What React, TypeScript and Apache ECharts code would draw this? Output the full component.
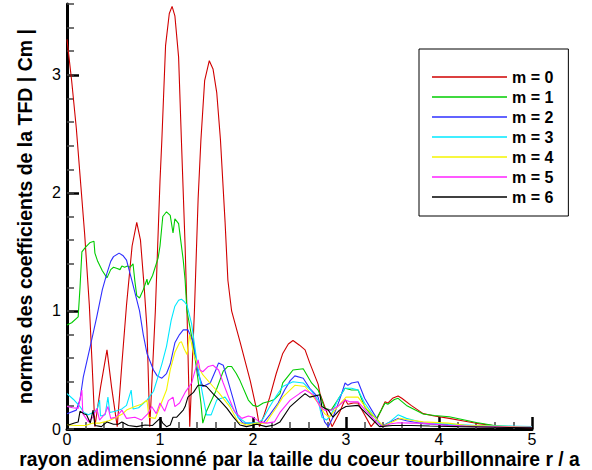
import React, { useEffect, useRef } from "react";
import * as echarts from "echarts";

const seriesNames = ["m = 0", "m = 1", "m = 2", "m = 3", "m = 4", "m = 5", "m = 6"];
const seriesColors = ["#d00000", "#00cc00", "#2f2fff", "#00e8ff", "#f5f500", "#ff22ff", "#000000"];
const yTickValues = [0, 1, 2, 3];

const m0: [number, number][] = [
  [0, 3.3], [0.05, 2.95], [0.1, 2.55], [0.15, 2.05], [0.19, 1.65], [0.24, 1.05], [0.27, 0.55], [0.3, 0.02],
  [0.36, 0.35], [0.43, 0.67], [0.48, 0.35], [0.54, 0.02], [0.59, 0.55], [0.64, 1.05], [0.7, 1.55], [0.75, 1.75],
  [0.79, 1.6], [0.83, 1.2], [0.86, 0.85], [0.89, 0.02], [0.95, 1.0], [1.0, 2.1], [1.02, 2.45], [1.06, 3.25],
  [1.1, 3.52], [1.13, 3.58], [1.16, 3.5], [1.2, 3.15], [1.23, 2.45], [1.27, 1.55], [1.29, 1.0], [1.32, 0.02],
  [1.37, 1.0], [1.41, 1.95], [1.44, 2.45], [1.48, 2.95], [1.53, 3.12], [1.57, 3.05], [1.61, 2.85], [1.65, 2.45],
  [1.7, 1.75], [1.73, 1.26], [1.77, 1.0], [1.86, 0.74], [1.97, 0.41], [2.04, 0.16], [2.07, 0.02], [2.12, 0.12],
  [2.18, 0.27], [2.25, 0.47], [2.32, 0.64], [2.38, 0.72], [2.43, 0.75], [2.5, 0.71], [2.56, 0.67], [2.61, 0.56],
  [2.7, 0.38], [2.72, 0.3], [2.79, 0.15], [2.85, 0.02], [2.93, 0.14], [2.99, 0.25], [3.02, 0.21], [3.08, 0.22],
  [3.13, 0.22], [3.2, 0.12], [3.27, 0.02], [3.33, 0.08], [3.39, 0.18], [3.42, 0.23], [3.45, 0.22], [3.5, 0.26],
  [3.56, 0.28], [3.6, 0.26], [3.7, 0.2], [3.83, 0.13], [3.95, 0.11], [4.11, 0.09], [4.25, 0.07], [4.4, 0.048],
  [4.58, 0.03], [4.75, 0.015], [5, 0.01],
];

const m1: [number, number][] = [
  [0, 0.88], [0.05, 0.9], [0.12, 0.95], [0.14, 1.2], [0.16, 1.5], [0.2, 1.54], [0.25, 1.58], [0.29, 1.59],
  [0.3, 1.49], [0.33, 1.42], [0.38, 1.34], [0.43, 1.28], [0.47, 1.35], [0.5, 1.37], [0.54, 1.36], [0.57, 1.35],
  [0.59, 1.38], [0.62, 1.37], [0.65, 1.38], [0.68, 1.37], [0.71, 1.4], [0.73, 1.25], [0.75, 1.13], [0.78, 1.11],
  [0.82, 1.18], [0.86, 1.27], [0.87, 1.22], [0.92, 1.3], [0.98, 1.45], [1.0, 1.55], [1.03, 1.8], [1.07, 1.84],
  [1.11, 1.81], [1.14, 1.66], [1.16, 1.78], [1.2, 1.74], [1.25, 1.43], [1.27, 1.26], [1.29, 1.0], [1.36, 0.7],
  [1.41, 0.41], [1.44, 0.22], [1.46, 0.05], [1.5, 0.15], [1.54, 0.22], [1.6, 0.32], [1.68, 0.49], [1.73, 0.53],
  [1.77, 0.53], [1.82, 0.47], [1.86, 0.41], [1.95, 0.245], [2.0, 0.2], [2.05, 0.19], [2.11, 0.22], [2.18, 0.235],
  [2.23, 0.25], [2.29, 0.3], [2.32, 0.39], [2.38, 0.45], [2.43, 0.5], [2.54, 0.51], [2.63, 0.39], [2.7, 0.33],
  [2.72, 0.29], [2.77, 0.175], [2.84, 0.16], [2.91, 0.245], [2.99, 0.345], [3.06, 0.33], [3.13, 0.33], [3.2, 0.19],
  [3.27, 0.12], [3.33, 0.09], [3.38, 0.16], [3.42, 0.22], [3.45, 0.21], [3.52, 0.25], [3.56, 0.26], [3.65, 0.2],
  [3.83, 0.127], [3.95, 0.115], [4.11, 0.104], [4.25, 0.08], [4.4, 0.055], [4.61, 0.028], [4.8, 0.02], [5, 0.02],
];

const m2: [number, number][] = [
  [0, 0.13], [0.1, 0.16], [0.14, 0.25], [0.175, 0.44], [0.25, 0.7], [0.32, 0.95], [0.38, 1.18], [0.43, 1.32],
  [0.47, 1.42], [0.5, 1.46], [0.56, 1.49], [0.6, 1.47], [0.64, 1.43], [0.7, 1.25], [0.78, 1.0], [0.82, 0.8],
  [0.86, 0.64], [0.93, 0.5], [0.97, 0.45], [1.02, 0.43], [1.07, 0.47], [1.11, 0.55], [1.16, 0.73], [1.21, 0.8],
  [1.25, 0.84], [1.3, 0.84], [1.36, 0.73], [1.41, 0.47], [1.46, 0.36], [1.54, 0.39], [1.6, 0.5], [1.63, 0.56],
  [1.68, 0.54], [1.73, 0.41], [1.79, 0.245], [1.84, 0.1], [1.89, 0.05], [1.97, 0.05], [2.07, 0.05], [2.12, 0.06],
  [2.18, 0.12], [2.27, 0.22], [2.34, 0.33], [2.4, 0.41], [2.45, 0.45], [2.54, 0.43], [2.61, 0.345], [2.7, 0.27],
  [2.77, 0.06], [2.81, 0.02], [2.86, 0.1], [2.93, 0.245], [2.99, 0.39], [3.02, 0.37], [3.06, 0.39], [3.13, 0.4],
  [3.2, 0.26], [3.33, 0.09], [3.38, 0.02], [3.45, 0.05], [3.56, 0.09], [3.65, 0.07], [3.83, 0.045], [4.1, 0.035],
  [4.4, 0.025], [5, 0.015],
];

const m3: [number, number][] = [
  [0, 0.3], [0.07, 0.25], [0.14, 0.19], [0.18, 0.14], [0.23, 0.12], [0.28, 0.14], [0.32, 0.16], [0.35, 0.245],
  [0.36, 0.11], [0.41, 0.12], [0.44, 0.27], [0.46, 0.14], [0.52, 0.15], [0.59, 0.17], [0.64, 0.2], [0.69, 0.33],
  [0.71, 0.17], [0.77, 0.18], [0.86, 0.245], [0.93, 0.32], [0.97, 0.42], [1.02, 0.55], [1.07, 0.7], [1.12, 0.92],
  [1.16, 1.04], [1.2, 1.09], [1.23, 1.1], [1.26, 1.08], [1.29, 1.05], [1.34, 0.89], [1.39, 0.61], [1.45, 0.33],
  [1.5, 0.12], [1.55, 0.12], [1.61, 0.245], [1.66, 0.26], [1.7, 0.27], [1.77, 0.19], [1.84, 0.1], [1.93, 0.05],
  [2.04, 0.05], [2.1, 0.076], [2.18, 0.19], [2.25, 0.28], [2.32, 0.36], [2.43, 0.4], [2.54, 0.39], [2.63, 0.32],
  [2.7, 0.245], [2.74, 0.1], [2.79, 0.076], [2.84, 0.12], [2.91, 0.245], [2.99, 0.345], [3.06, 0.345], [3.13, 0.33],
  [3.2, 0.22], [3.33, 0.076], [3.4, 0.02], [3.47, 0.06], [3.56, 0.12], [3.65, 0.09], [3.83, 0.053], [4.11, 0.042],
  [4.4, 0.03], [5, 0.02],
];

const m4: [number, number][] = [
  [0, 0.034], [0.1, 0.03], [0.2, 0.03], [0.28, 0.05], [0.35, 0.05], [0.45, 0.07], [0.53, 0.1], [0.6, 0.13],
  [0.64, 0.16], [0.73, 0.19], [0.8, 0.21], [0.86, 0.245], [0.88, 0.1], [0.95, 0.09], [1.0, 0.19], [1.07, 0.33],
  [1.11, 0.5], [1.16, 0.65], [1.21, 0.73], [1.23, 0.74], [1.26, 0.68], [1.29, 0.63], [1.32, 0.8], [1.36, 0.64],
  [1.41, 0.53], [1.46, 0.46], [1.57, 0.36], [1.64, 0.3], [1.75, 0.19], [1.84, 0.06], [1.93, 0.034], [2.04, 0.05],
  [2.14, 0.05], [2.18, 0.1], [2.25, 0.18], [2.32, 0.27], [2.45, 0.37], [2.56, 0.36], [2.63, 0.29], [2.72, 0.2],
  [2.77, 0.13], [2.82, 0.1], [2.91, 0.19], [3.0, 0.27], [3.13, 0.27], [3.22, 0.175], [3.34, 0.076], [3.4, 0.025],
  [3.5, 0.06], [3.58, 0.09], [3.65, 0.08], [3.83, 0.06], [4.1, 0.05], [4.3, 0.03], [5, 0.015],
];

const m5: [number, number][] = [
  [0, 0.19], [0.06, 0.18], [0.12, 0.175], [0.16, 0.33], [0.17, 0.13], [0.23, 0.06], [0.28, 0.1], [0.32, 0.175],
  [0.35, 0.076], [0.41, 0.13], [0.44, 0.19], [0.47, 0.09], [0.52, 0.1], [0.55, 0.12], [0.59, 0.16], [0.64, 0.09],
  [0.73, 0.1], [0.8, 0.076], [0.87, 0.13], [0.91, 0.19], [0.96, 0.13], [1.0, 0.22], [1.05, 0.15], [1.09, 0.24],
  [1.14, 0.27], [1.16, 0.19], [1.21, 0.22], [1.27, 0.31], [1.34, 0.39], [1.41, 0.585], [1.43, 0.5], [1.46, 0.485],
  [1.52, 0.53], [1.57, 0.54], [1.63, 0.5], [1.68, 0.39], [1.75, 0.245], [1.8, 0.15], [1.88, 0.09], [1.95, 0.11],
  [2.0, 0.1], [2.07, 0.06], [2.15, 0.05], [2.23, 0.06], [2.29, 0.14], [2.4, 0.245], [2.5, 0.3], [2.56, 0.33],
  [2.65, 0.29], [2.72, 0.19], [2.77, 0.16], [2.84, 0.16], [2.91, 0.19], [2.99, 0.245], [3.04, 0.23], [3.13, 0.23],
  [3.22, 0.15], [3.34, 0.05], [3.4, 0.02], [3.47, 0.042], [3.56, 0.053], [3.7, 0.05], [3.83, 0.05], [4.1, 0.03],
  [4.4, 0.02], [5, 0.015],
];

const m6: [number, number][] = [
  [0, 0.03], [0.08, 0.05], [0.12, 0.06], [0.14, 0.15], [0.18, 0.13], [0.21, 0.12], [0.25, 0.05], [0.28, 0.16],
  [0.3, 0.03], [0.37, 0.02], [0.43, 0.06], [0.5, 0.04], [0.55, 0.04], [0.59, 0.06], [0.66, 0.03], [0.75, 0.02],
  [0.84, 0.034], [0.92, 0.03], [1.0, 0.09], [1.03, 0.05], [1.07, 0.02], [1.11, 0.034], [1.14, 0.1], [1.18, 0.1],
  [1.25, 0.16], [1.27, 0.19], [1.3, 0.27], [1.36, 0.31], [1.41, 0.37], [1.46, 0.37], [1.5, 0.36], [1.57, 0.3],
  [1.64, 0.245], [1.72, 0.175], [1.79, 0.1], [1.86, 0.034], [1.93, 0.02], [2.04, 0.04], [2.14, 0.02], [2.23, 0.034],
  [2.29, 0.06], [2.4, 0.19], [2.5, 0.26], [2.56, 0.3], [2.61, 0.27], [2.72, 0.29], [2.74, 0.19], [2.81, 0.16],
  [2.86, 0.1], [2.93, 0.16], [3.0, 0.19], [3.13, 0.2], [3.22, 0.13], [3.36, 0.02], [3.5, 0.03], [3.7, 0.03],
  [3.9, 0.025], [4.2, 0.02], [5, 0.01],
];

const allSeries = [m0, m1, m2, m3, m4, m5, m6];

const FONT = "'Liberation Sans', Arial, Helvetica, sans-serif";

export default function App() {
  const ref = useRef<HTMLDivElement>(null);
  useEffect(() => {
    if (!ref.current) return;
    const chart = echarts.init(ref.current, undefined, { renderer: "svg" });
    chart.setOption({
      animation: false,
      backgroundColor: "#ffffff",
      textStyle: { fontFamily: FONT },
      grid: { left: 67, right: 60, top: 4, bottom: 41, containLabel: false, outerBoundsMode: "none" },
      legend: {
        orient: "vertical",
        left: 419,
        top: 49,
        padding: [18, 15, 9, 13],
        borderColor: "#000",
        borderWidth: 1,
        icon: "rect",
        itemWidth: 75,
        itemHeight: 1.5,
        itemGap: 0,
        itemTextGap: 12,
        data: seriesNames,
        textStyle: { fontFamily: FONT, fontSize: 16, fontWeight: "bold", color: "#000", lineHeight: 20 },
      },
      xAxis: {
        type: "value",
        min: 0,
        max: 5,
        interval: 1,
        name: "rayon adimensionné par la taille du coeur tourbillonnaire r / a",
        nameLocation: "middle",
        nameGap: 21,
        nameMoveOverlap: false,
        nameTextStyle: { fontFamily: FONT, fontSize: 19.3, fontWeight: "bold", color: "#000", lineHeight: 18 },
        axisLine: { lineStyle: { color: "#000", width: 3 } },
        axisTick: { inside: true, length: 12, lineStyle: { color: "#000", width: 2.5 } },
        minorTick: { show: true, splitNumber: 5, length: 7, lineStyle: { color: "#444", width: 1.5 } },
        axisLabel: { fontFamily: FONT, fontSize: 16, color: "#000", margin: 3, lineHeight: 14 },
        splitLine: { show: false },
      },
      yAxis: [
        {
          type: "value",
          min: 0,
          max: 3.6,
          position: "left",
          name: "normes des coefficients de la TFD | Cm |",
          nameLocation: "middle",
          nameGap: 32,
          nameTextStyle: { fontFamily: FONT, fontSize: 19.5, fontWeight: "bold", color: "#000" },
          axisLine: { show: true, lineStyle: { color: "#000", width: 3 } },
          axisTick: { show: true, inside: true, length: 12, customValues: yTickValues, lineStyle: { color: "#000", width: 2.5 } },
          axisLabel: { fontFamily: FONT, fontSize: 16, color: "#000", margin: 6, customValues: yTickValues },
          splitLine: { show: false },
        },
        {
          type: "value",
          min: 0,
          max: 3.6,
          interval: 0.2,
          position: "left",
          offset: 0,
          axisLine: { show: false },
          axisTick: { show: true, inside: true, length: 7, lineStyle: { color: "#444", width: 1.5 } },
          axisLabel: { show: false },
          splitLine: { show: false },
        },
      ],
      series: allSeries.map((d, i) => ({
        name: seriesNames[i],
        type: "line",
        data: d,
        yAxisIndex: 0,
        showSymbol: false,
        symbol: "none",
        smooth: false,
        lineStyle: { color: seriesColors[i], width: 1.1 },
        itemStyle: { color: seriesColors[i] },
        emphasis: { disabled: true },
      })),
    });
    return () => chart.dispose();
  }, []);
  return <div ref={ref} style={{ position: "absolute", left: 0, top: 0, width: 592, height: 470 }} />;
}
